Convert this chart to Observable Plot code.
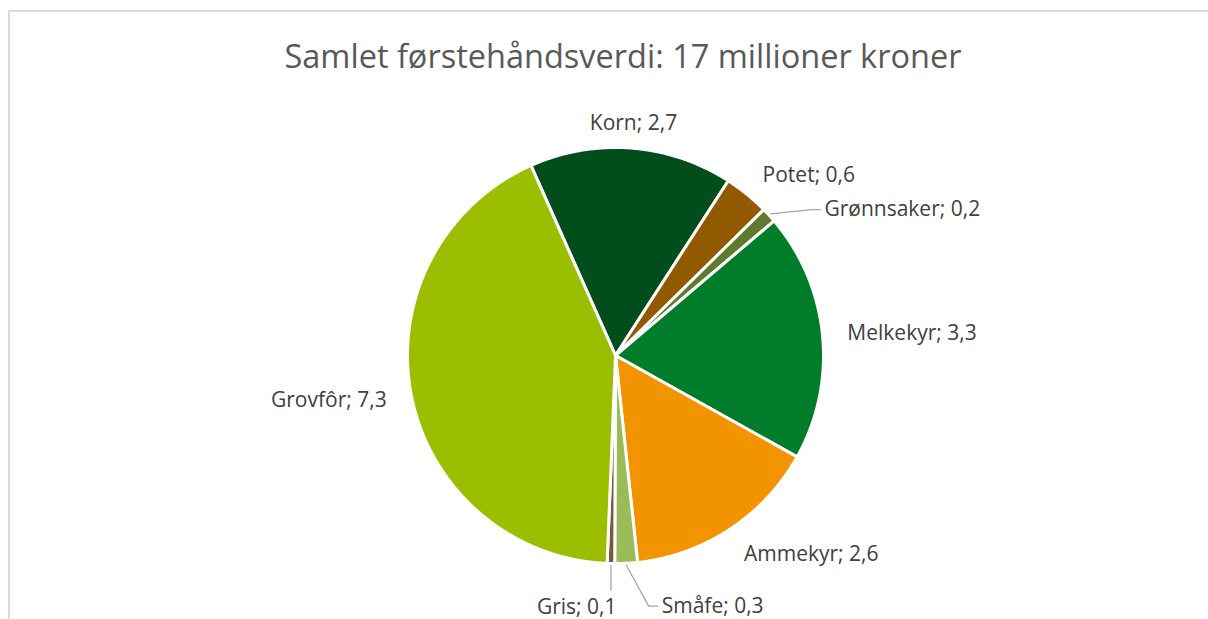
<!DOCTYPE html>
<html>
<head>
<meta charset="utf-8">
<script src="https://cdn.jsdelivr.net/npm/d3@7"></script>
<script src="https://cdn.jsdelivr.net/npm/@observablehq/plot@0.6"></script>
<style>
  html, body { margin: 0; padding: 0; background: #ffffff; overflow: hidden; }
  #wrap { position: relative; width: 1208px; height: 619px; overflow: hidden; font-family: "Open Sans", Lato, sans-serif; }
  #box { position: absolute; left: 8px; top: 10px; width: 1240px; height: 700px; border: 2px solid #dcdcdc; box-sizing: border-box; }
  #title { position: absolute; left: 8px; width: 1230px; top: 40px; text-align: center; font-size: 32.5px; line-height: 1; color: #595959; white-space: nowrap; }
  #chart { position: absolute; left: 0; top: 0; }
</style>
</head>
<body>
<div id="wrap">
  <div id="box"></div>
  <div id="chart"></div>
  <div id="title"></div>
</div>
<script>
// ---- data ----
const title = "Samlet førstehåndsverdi: 17 millioner kroner";
const categories = ["Korn", "Potet", "Grønnsaker", "Melkekyr", "Ammekyr", "Småfe", "Gris", "Grovfôr"];
const values = [2.7, 0.6, 0.2, 3.3, 2.6, 0.3, 0.1, 7.3];
const colors = ["#024d1c", "#925a00", "#5f7a2e", "#007c2b", "#f29400", "#9bbb59", "#7a5a3c", "#9bbf00"];

document.getElementById("title").textContent = title;

// ---- layout ----
const W = 1208, H = 619;
const cx = 615, cy = 355, R = 208;           // pie centre and radius in px
const firstSliceAngle = -24;                 // degrees, clockwise from 12 o'clock
const deg = Math.PI / 180;
const total = d3.sum(values);

const arcs = d3.pie().sort(null)
  .startAngle(firstSliceAngle * deg)
  .endAngle(firstSliceAngle * deg + 2 * Math.PI)(values);

// slice polygons in unit coordinates (r = 1), y up
const slicePts = [];
arcs.forEach((a, i) => {
  const name = categories[i];
  slicePts.push({name, x: 0, y: 0});
  const n = Math.max(2, Math.ceil((a.endAngle - a.startAngle) / (0.5 * deg)));
  for (let k = 0; k <= n; k++) {
    const t = a.startAngle + (a.endAngle - a.startAngle) * k / n;
    slicePts.push({name, x: Math.sin(t), y: Math.cos(t)});
  }
  slicePts.push({name, x: 0, y: 0});
});

// labels
const fmt = v => String(v).replace(".", ",");
const small = values.map(v => v / total < 0.02);
const px = 1 / R;
const labels = arcs.map((a, i) => {
  let m = (a.startAngle + a.endAngle) / 2;
  let r = 1.12;
  if (small[i]) {
    r = 1.225;
    const prevSmall = small[(i - 1 + values.length) % values.length];
    const nextSmall = small[(i + 1) % values.length];
    const nudge = 7.5 * deg;
    m += prevSmall ? nudge : nextSmall ? -nudge : nudge;
  }
  const s = Math.sin(m), c = Math.cos(m);
  const anchor = Math.abs(s) < 0.16 ? "middle" : s > 0 ? "start" : "end";
  const extra = small[i] ? 0 : (c < 0 ? -c * 5 * px : 0);
  return {name: categories[i], text: `${categories[i]}; ${fmt(values[i])}`, x: r * s, y: r * c - extra, anchor, mid: (a.startAngle + a.endAngle) / 2, isSmall: small[i]};
});

// leader lines for the small slices
const leaders = [];
labels.filter(l => l.isSmall).forEach(l => {
  const ex = Math.sin(l.mid), ey = Math.cos(l.mid);
  if (l.anchor === "middle") {
    const side = l.y < 0 ? 1 : -1;
    leaders.push({name: l.name, x: ex, y: ey * 1.01});
    leaders.push({name: l.name, x: ex, y: l.y + side * 17 * px});
  } else {
    const dir = l.anchor === "start" ? 1 : -1;
    leaders.push({name: l.name, x: ex * 1.01, y: ey * 1.01});
    leaders.push({name: l.name, x: l.x - dir * 13 * px, y: l.y});
    leaders.push({name: l.name, x: l.x - dir * 4 * px, y: l.y});
  }
});

const textStyle = {fontFamily: "'Open Sans', Lato, sans-serif", fontSize: 21, fill: "#404040", text: "text", x: "x", y: "y"};

const chart = Plot.plot({
  width: W,
  height: H,
  margin: 0,
  x: {domain: [-cx / R, (W - cx) / R], range: [0, W], axis: null},
  y: {domain: [-(H - cy) / R, cy / R], range: [H, 0], axis: null},
  color: {type: "ordinal", domain: categories, range: colors},
  style: {background: "transparent", overflow: "visible"},
  marks: [
    Plot.line(slicePts, {x: "x", y: "y", z: "name", fill: "name", stroke: "#ffffff", strokeWidth: 3, strokeLinejoin: "miter", curve: "linear"}),
    Plot.line(leaders, {x: "x", y: "y", z: "name", stroke: "#a6a6a6", strokeWidth: 1.3}),
    Plot.text(labels.filter(d => d.anchor === "start"), {...textStyle, textAnchor: "start"}),
    Plot.text(labels.filter(d => d.anchor === "end"), {...textStyle, textAnchor: "end"}),
    Plot.text(labels.filter(d => d.anchor === "middle"), {...textStyle, textAnchor: "middle"})
  ]
});
document.getElementById("chart").appendChild(chart);
</script>
</body>
</html>
